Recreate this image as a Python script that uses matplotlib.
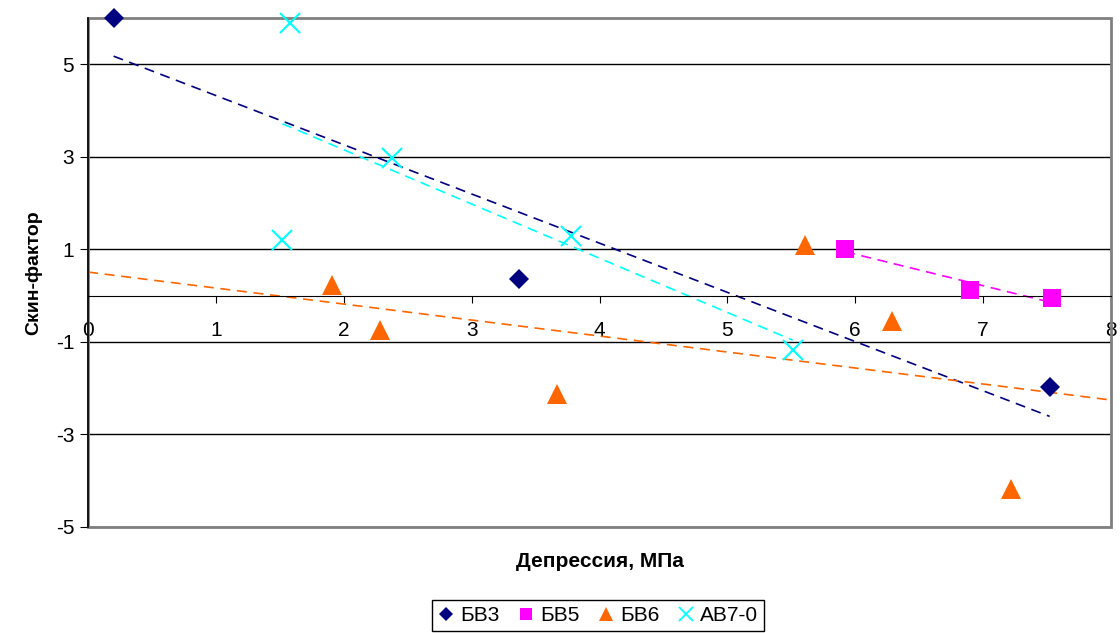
import matplotlib.pyplot as plt
import numpy as np
from matplotlib.lines import Line2D
from matplotlib.patches import Rectangle

plt.rcParams['font.family'] = ['Liberation Sans', 'DejaVu Sans']
plt.rcParams['axes.unicode_minus'] = False

# скважины по пластам: депрессия (МПа) и скин-фактор
bv3_x = [0.20, 3.37, 7.52]
bv3_y = [6.00, 0.35, -1.98]

bv5_x = [5.92, 6.90, 7.54]
bv5_y = [1.01, 0.13, -0.06]

bv6_x = [1.91, 2.28, 3.67, 5.61, 6.29, 7.22]
bv6_y = [0.24, -0.75, -2.13, 1.10, -0.54, -4.19]

av7_x = [1.58, 1.52, 2.38, 3.78, 5.51]
av7_y = [5.89, 1.20, 2.97, 1.29, -1.18]

series = [
    ('БВ3', bv3_x, bv3_y, '#000080', 'D', 10, None),
    ('БВ5', bv5_x, bv5_y, '#FF00FF', 's', 13, None),
    ('БВ6', bv6_x, bv6_y, '#FF6600', '^', 14, (0, 8)),
    ('АВ7-0', av7_x, av7_y, '#00FFFF', 'x', 14, None),
]

fig = plt.figure(figsize=(11.2, 6.33), dpi=100)
ax = fig.add_axes([0.0786, 0.1675, 0.9134, 0.804])

handles = []
for name, xs, ys, col, mk, ms, span in series:
    xs = np.array(xs)
    ys = np.array(ys)
    k, b = np.polyfit(xs, ys, 1)
    lo, hi = span if span else (xs.min(), xs.max())
    tx = np.array([lo, hi])
    ax.plot(tx, k * tx + b, color=col, lw=1.2, ls=(0, (6, 4)), zorder=2)
    ax.plot(xs, ys, ls='none', marker=mk, ms=ms, color=col,
            mew=1.5 if mk == 'x' else 0, zorder=3, clip_on=False)
    handles.append(Line2D([], [], ls='none', marker=mk, color=col,
                          ms=ms * 0.7, mew=1.3 if mk == 'x' else 0,
                          label=name))

ax.set_xlim(0, 8)
ax.set_ylim(-5, 6)
ax.set_xticks(np.arange(0, 9, 1))
ax.set_yticks(np.arange(-5, 6, 2))
ax.yaxis.grid(True, color='black', lw=1)
ax.set_axisbelow(True)

# ось X проходит через ноль, рамка области построения серая
ax.spines['bottom'].set_position(('data', 0))
ax.spines['bottom'].set_color('black')
ax.spines['left'].set_color('black')
ax.spines['left'].set_linewidth(1.2)
ax.spines['top'].set_visible(False)
ax.spines['right'].set_visible(False)
ax.add_patch(Rectangle((0, 0), 1, 1, transform=ax.transAxes, fill=False,
                       edgecolor='#808080', lw=2, zorder=1, clip_on=False))

ax.tick_params(axis='x', direction='out', length=5, pad=13, labelsize=15)
ax.tick_params(axis='y', direction='out', length=6, pad=4, labelsize=15)

ax.set_ylabel('Скин-фактор', fontsize=14, fontweight='bold', labelpad=10)
ax.set_xlabel('Депрессия, МПа', fontsize=15, fontweight='bold')
ax.xaxis.set_label_coords(0.5, -0.05)

fig.legend(handles=handles, loc='lower center', bbox_to_anchor=(0.534, -0.014),
           ncol=4, fontsize=15, frameon=True, fancybox=False, edgecolor='black',
           framealpha=1, handlelength=0.8, handletextpad=0.25, columnspacing=0.9,
           borderpad=0.3)

fig.savefig('out.png', dpi=100)
